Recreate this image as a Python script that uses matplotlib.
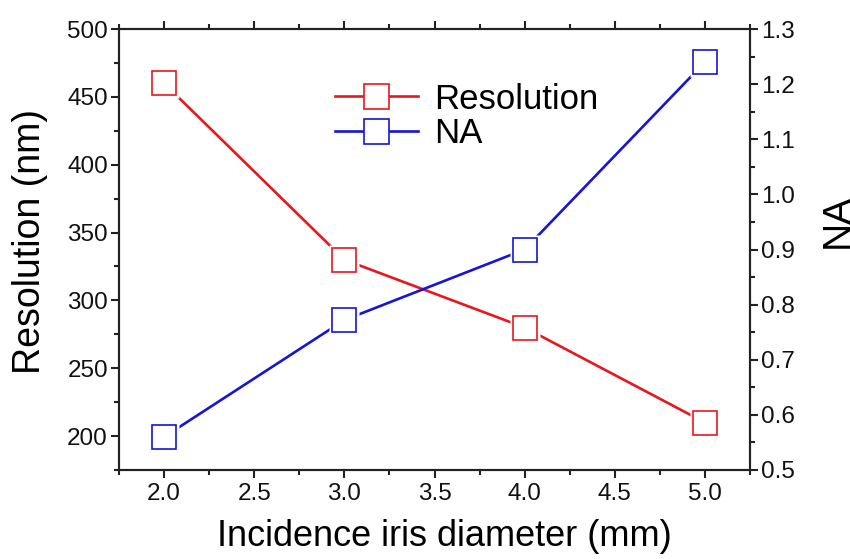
import matplotlib
matplotlib.use("Agg")
import matplotlib.pyplot as plt
from matplotlib.ticker import MultipleLocator

plt.rcParams['font.family'] = ['Liberation Sans', 'DejaVu Sans']

diameter = [2.0, 3.0, 4.0, 5.0]
resolution = [460, 330, 280, 210]
na = [0.56, 0.772, 0.90, 1.24]

red = '#e8161e'
blue = '#1515d8'

fig = plt.figure(figsize=(8.5, 5.59), dpi=100)
ax = fig.add_axes([119/850, 1-470/559, (750-119)/850, (470-29)/559])
ax2 = ax.twinx()

# lines, then white pads so the line stops short of each marker, then hollow squares
ax.plot(diameter, resolution, color=red, lw=1.9, zorder=2)
ax.plot(diameter, resolution, ls='none', marker='s', ms=22, mfc='white', mec='none', zorder=3)
ax.plot(diameter, resolution, ls='none', marker='s', ms=17, mfc='white', mec=red, mew=1.2, zorder=4)
ax2.plot(diameter, na, color=blue, lw=1.9, zorder=2)
ax2.plot(diameter, na, ls='none', marker='s', ms=22, mfc='white', mec='none', zorder=3)
ax2.plot(diameter, na, ls='none', marker='s', ms=17, mfc='white', mec=blue, mew=1.2, zorder=4)

l1, = ax.plot([], [], color=red, lw=1.9, marker='s', ms=18, mfc='white', mec=red, mew=1.2, label='Resolution')
l2, = ax.plot([], [], color=blue, lw=1.9, marker='s', ms=18, mfc='white', mec=blue, mew=1.2, label='NA')

ax.set_xlim(1.75, 5.25)
ax.set_ylim(175, 500)
ax2.set_ylim(0.5, 1.3)

ax.xaxis.set_major_locator(MultipleLocator(0.5))
ax.xaxis.set_minor_locator(MultipleLocator(0.25))
ax.yaxis.set_major_locator(MultipleLocator(50))
ax.yaxis.set_minor_locator(MultipleLocator(25))
ax2.yaxis.set_major_locator(MultipleLocator(0.1))
ax2.yaxis.set_minor_locator(MultipleLocator(0.05))
ax.set_yticks([200, 250, 300, 350, 400, 450, 500])
ax.set_xticks([2.0, 2.5, 3.0, 3.5, 4.0, 4.5, 5.0])
ax.xaxis.set_major_formatter(plt.FormatStrFormatter('%.1f'))
ax2.yaxis.set_major_formatter(plt.FormatStrFormatter('%.1f'))

for a in (ax, ax2):
    for s in a.spines.values():
        s.set_linewidth(1.5)
        s.set_color('#222222')
    a.tick_params(which='major', direction='out', length=6, width=1.5, labelsize=17.5, colors='#222222', labelcolor='#111111')
    a.tick_params(which='minor', direction='out', length=3.5, width=1.5, colors='#222222')
ax.tick_params(which='both', top=True, right=False)
ax2.tick_params(which='both', right=True, left=False)
ax.tick_params(axis='y', which='major', pad=2)
ax2.tick_params(axis='y', which='major', pad=2)

ax.set_xlabel('Incidence iris diameter (mm)', fontsize=26)
ax.xaxis.set_label_coords(0.515, -0.11)
ax.set_ylabel('Resolution (nm)', fontsize=27)
ax.yaxis.set_label_coords(-0.112, 0.519)
ax2.set_ylabel('NA', fontsize=28)
ax2.yaxis.set_label_coords(1.111, 0.565)

ax.legend(handles=[l1, l2], loc='upper left', bbox_to_anchor=(0.32, 0.91),
          frameon=False, fontsize=25, handlelength=2.4, handletextpad=0.45,
          labelspacing=0.05, borderaxespad=0)

fig.savefig('out.png', dpi=100)
